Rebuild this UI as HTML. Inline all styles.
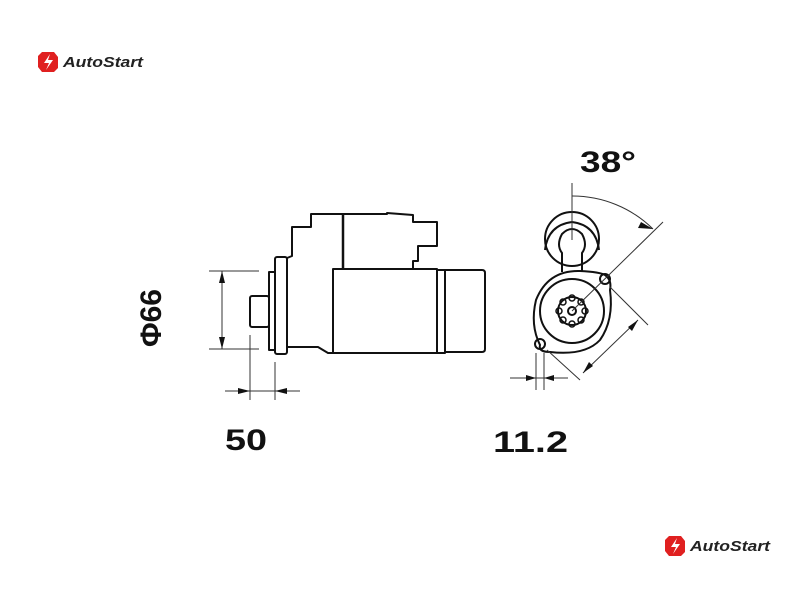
<!DOCTYPE html>
<html><head><style>
body{margin:0;background:#fff;width:800px;height:600px;overflow:hidden;}
svg{display:block}
</style></head><body>
<svg width="800" height="600" viewBox="0 0 800 600" xmlns="http://www.w3.org/2000/svg">
<g fill="none" stroke="#111" stroke-width="2" stroke-linejoin="round">
<path d="M287,258 L292,256 L292,227 L311,227 L311,214 L387,214 L387,213 L413,215 L413,222 L437,222 L437,246 L418,246 L418,261 L413,261 L413,268"/>
<line x1="343" y1="214" x2="343" y2="268" stroke-width="2.5"/>
<rect x="333" y="269" width="104" height="84"/>
<rect x="437" y="270" width="8" height="83"/>
<path d="M445,270 L482,270 Q485,270 485,273 L485,349 Q485,352 482,352 L445,352"/>
<rect x="275" y="257" width="12" height="97" rx="2"/>
<rect x="269" y="272" width="6" height="78"/>
<rect x="250" y="296" width="19" height="31" rx="2"/>
<path d="M287,347 L318,347 L328,353 L333,353"/>
<line x1="287" y1="258" x2="287" y2="347"/>
</g>
<g stroke="#333" stroke-width="1" fill="none">
<line x1="209" y1="271" x2="259" y2="271"/>
<line x1="209" y1="349" x2="259" y2="349"/>
<line x1="222" y1="271" x2="222" y2="349"/>
<line x1="250" y1="335" x2="250" y2="400"/>
<line x1="275" y1="362" x2="275" y2="400"/>
<line x1="225" y1="391" x2="300" y2="391"/>
</g>
<g fill="#111">
<path d="M222,271 L219,283 L225,283Z"/><path d="M222,349 L219,337 L225,337Z"/>
<path d="M250,391 L238,388 L238,394Z"/><path d="M275,391 L287,388 L287,394Z"/>
</g>
<g fill="none" stroke="#111" stroke-width="2">
<circle cx="572" cy="239" r="27"/>
<path d="M562,272 L562,253 Q556,245 562,234 Q572,224 582,234 Q588,245 582,253 L582,272"/>
<path d="M545,250 Q548,225 572,222 Q596,225 599,250"/>
<path d="M540,345 Q530,325 536,300 Q548,270 580,271 Q600,272 605,275 Q612,280 610,290 Q614,320 600,340 Q585,356 550,352 Q538,352 540,345Z"/>
<circle cx="572" cy="311" r="32"/>
<circle cx="605" cy="279" r="5"/>
<circle cx="540" cy="344" r="5"/>
<circle cx="572" cy="311" r="14"/>
<circle cx="572" cy="311" r="4"/>
</g>
<g fill="none" stroke="#111" stroke-width="1.5">
<circle cx="572" cy="298" r="3"/><circle cx="581" cy="302" r="3"/><circle cx="585" cy="311" r="3"/><circle cx="581" cy="320" r="3"/><circle cx="572" cy="324" r="3"/><circle cx="563" cy="320" r="3"/><circle cx="559" cy="311" r="3"/><circle cx="563" cy="302" r="3"/>
</g>
<g stroke="#333" stroke-width="1" fill="none">
<line x1="572" y1="183" x2="572" y2="240"/>
<line x1="572" y1="311" x2="663" y2="222"/>
<path d="M572,196 A115,115 0 0 1 653,229"/>
<line x1="610" y1="287" x2="648" y2="325"/>
<line x1="547" y1="350" x2="580" y2="380"/>
<line x1="638" y1="320" x2="583" y2="373"/>
<line x1="536" y1="353" x2="536" y2="390"/>
<line x1="544" y1="353" x2="544" y2="390"/>
<line x1="510" y1="378" x2="568" y2="378"/>
</g>
<g fill="#111">
<path d="M653,229 L641,222 L638,228Z"/>
<path d="M638,320 L628,327 L632,331Z"/><path d="M583,373 L593,366 L589,362Z"/>
<path d="M536,378 L526,375 L526,381Z"/><path d="M544,378 L554,375 L554,381Z"/>
</g>
<g font-family="Liberation Sans, sans-serif" font-weight="bold" fill="#111">
<text x="580" y="172" font-size="30" textLength="56" lengthAdjust="spacingAndGlyphs">38°</text>
<text x="225" y="450" font-size="30" textLength="42" lengthAdjust="spacingAndGlyphs">50</text>
<text x="493" y="452" font-size="30" textLength="75" lengthAdjust="spacingAndGlyphs">11.2</text>
<text transform="translate(161,318) rotate(-90)" text-anchor="middle" font-size="30">Φ66</text>
</g>
<g>
<path d="M42,52 L54,52 L58,57 L58,68 L54,72 L42,72 L38,67 L38,56Z" fill="#e02020"/>
<path d="M50,54 L44,63 L49,63 L46,70 L53,60 L48,60Z" fill="#fff"/>
<text x="63" y="67" font-family="Liberation Sans, sans-serif" font-style="italic" font-weight="bold" font-size="15" fill="#222" textLength="80" lengthAdjust="spacingAndGlyphs">AutoStart</text>
</g>
<g>
<path d="M669,536 L681,536 L685,541 L685,552 L681,556 L669,556 L665,551 L665,540Z" fill="#e02020"/>
<path d="M677,538 L671,547 L676,547 L673,554 L680,544 L675,544Z" fill="#fff"/>
<text x="690" y="551" font-family="Liberation Sans, sans-serif" font-style="italic" font-weight="bold" font-size="15" fill="#222" textLength="80" lengthAdjust="spacingAndGlyphs">AutoStart</text>
</g>
</svg>
</body></html>
